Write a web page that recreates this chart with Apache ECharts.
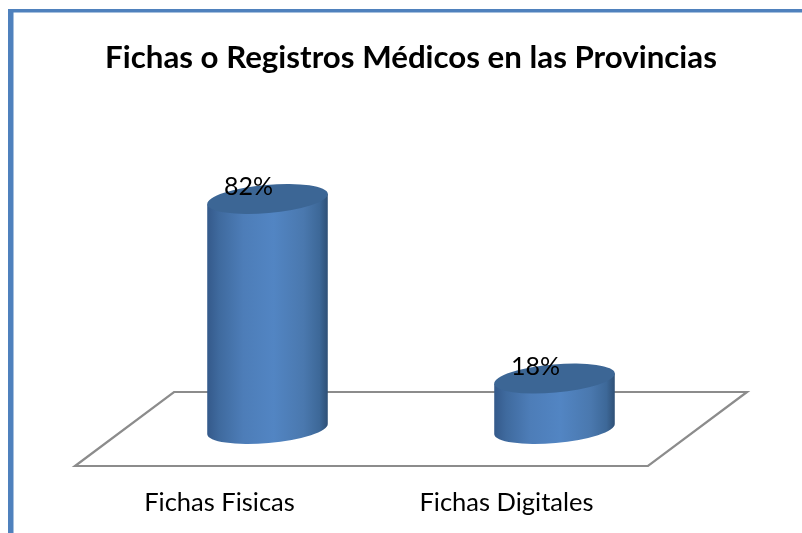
<!DOCTYPE html>
<html>
<head>
<meta charset="utf-8">
<title>Fichas o Registros Médicos en las Provincias</title>
<script src="https://cdn.jsdelivr.net/npm/echarts@6/dist/echarts.min.js"></script>
<style>
  html, body { margin: 0; padding: 0; background: #fff; }
  #chart { width: 802px; height: 533px; }
</style>
</head>
<body>
<div id="chart"></div>
<script>
// Chart data
const categories = ['Fichas Fisicas', 'Fichas Digitales'];
const values = [82, 18];
const valueLabels = ['82%', '18%'];

const chart = echarts.init(document.getElementById('chart'));

const borderBlue = '#4f81bd';
const floorGrey = '#8c8c8c';
const tilt = -5; // ellipse tilt in degrees

// Draws one cylinder from the axis scales
function renderCylinder(params, api) {
  const i = api.value(0);
  const top = api.coord([i, api.value(1)]);
  const base = api.coord([i, 0]);
  const rx = api.size([1, 0])[0] * 0.21;
  const ry = 14;
  const dy = rx * Math.sin(tilt * Math.PI / 180);
  const ellipse = function (cx, cy) {
    return 'M' + (cx - rx) + ' ' + (cy - dy) +
      'A' + rx + ' ' + ry + ' ' + tilt + ' 1 0 ' + (cx + rx) + ' ' + (cy + dy) +
      'A' + rx + ' ' + ry + ' ' + tilt + ' 1 0 ' + (cx - rx) + ' ' + (cy - dy) + 'Z';
  };
  const body = 'M' + (top[0] - rx) + ' ' + (top[1] - dy) +
    'L' + (base[0] - rx) + ' ' + (base[1] - dy) +
    'A' + rx + ' ' + ry + ' ' + tilt + ' 0 0 ' + (base[0] + rx) + ' ' + (base[1] + dy) +
    'L' + (top[0] + rx) + ' ' + (top[1] + dy) + 'Z';

  return {
    type: 'group',
    children: [
      {
        type: 'path',
        shape: { pathData: body },
        style: {
          fill: new echarts.graphic.LinearGradient(0, 0, 1, 0, [
            { offset: 0, color: '#34598a' },
            { offset: 0.1, color: '#3f6a9e' },
            { offset: 0.3, color: '#4d7db8' },
            { offset: 0.55, color: '#5285c3' },
            { offset: 0.8, color: '#4a78ae' },
            { offset: 0.93, color: '#3d6898' },
            { offset: 1, color: '#2e4f75' }
          ])
        }
      },
      {
        type: 'path',
        shape: { pathData: ellipse(top[0], top[1]) },
        style: { fill: '#3c6695' }
      },
      {
        type: 'text',
        x: top[0] - 19,
        y: top[1] - 12,
        style: {
          text: valueLabels[i],
          fill: '#000',
          font: '25px Lato',
          align: 'center',
          verticalAlign: 'middle'
        }
      }
    ]
  };
}

const option = {
  animation: false,
  title: {
    text: 'Fichas o Registros Médicos en las Provincias',
    left: 406,
    top: 37,
    textAlign: 'center',
    textStyle: { fontFamily: 'Lato', fontWeight: 'bold', fontSize: 31.25, color: '#000' }
  },
  grid: { left: 124, width: 574, top: 148.5, height: 280.5 },
  xAxis: {
    type: 'category',
    data: categories,
    axisLine: { show: false },
    axisTick: { show: false },
    axisLabel: {
      margin: 61,
      padding: [0, 96, 0, 0],
      fontFamily: 'Lato',
      fontSize: 25.5,
      color: '#000'
    }
  },
  yAxis: { type: 'value', min: 0, max: 100, show: false },
  graphic: [
    // floor of the 3D plot
    {
      type: 'polygon',
      z: 1,
      shape: { points: [[75, 466], [648, 466], [747, 392], [174, 392]] },
      style: { fill: '#fff', stroke: floorGrey, lineWidth: 2.2 }
    },
    // blue frame, runs off the page right and bottom
    { type: 'rect', z: 1, shape: { x: 8, y: 9, width: 794, height: 3.5 }, style: { fill: borderBlue } },
    { type: 'rect', z: 1, shape: { x: 8, y: 9, width: 5.5, height: 524 }, style: { fill: borderBlue } }
  ],
  series: [{
    type: 'custom',
    renderItem: renderCylinder,
    encode: { x: 0, y: 1 },
    data: values.map(function (v, i) { return [i, v]; })
  }]
};

chart.setOption(option);
</script>
</body>
</html>
